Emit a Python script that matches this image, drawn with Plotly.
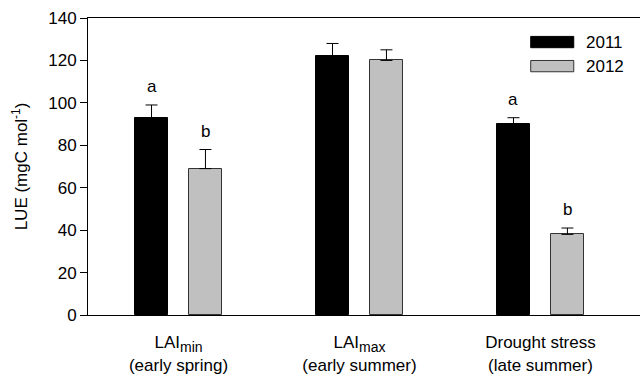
import plotly.graph_objects as go
import numpy as np

categories = ["LAI<sub><span style='font-size:14px'>min</span></sub><br>(early spring)",
              "LAI<sub><span style='font-size:14px'>max</span></sub><br>(early summer)",
              "Drought stress<br>(late summer)"]
series_names = ["2011", "2012"]
lue_2011 = [93, 122, 90]
lue_2012 = [69, 120, 38]
err_2011 = [6, 6, 3]
err_2012 = [9, 5, 3]
letters_2011 = ["a", "", "a"]
letters_2012 = ["b", "", "b"]
y_ticks = [0, 20, 40, 60, 80, 100, 120, 140]

FONT = "Liberation Sans, Arial, sans-serif"
idx = np.arange(len(categories))
off = 0.149
bw = 0.18

fig = go.Figure()
colors = ["#000000", "#C0C0C0"]
lines = ["#000000", "#333333"]
for k, (vals, errs) in enumerate([(lue_2011, err_2011), (lue_2012, err_2012)]):
    xs = idx + (-off if k == 0 else off)
    fig.add_trace(go.Bar(
        x=xs, y=vals, width=bw, name=series_names[k],
        marker=dict(color=colors[k], line=dict(color=lines[k], width=1)),
        error_y=dict(type="data", symmetric=False, array=errs, arrayminus=[0]*len(errs),
                     color="#000000", thickness=1, width=6),
        showlegend=False,
    ))

for k, (vals, errs, lets) in enumerate([(lue_2011, err_2011, letters_2011), (lue_2012, err_2012, letters_2012)]):
    for i in range(len(categories)):
        if lets[i]:
            fig.add_annotation(x=idx[i] + (-off if k == 0 else off), y=vals[i] + errs[i],
                               text=lets[i], showarrow=False, yanchor="bottom", yshift=7,
                               font=dict(size=17, color="#000000", family=FONT))

# manual legend
leg_y = [0.919, 0.838]
for k, name in enumerate(series_names):
    fig.add_shape(type="rect", xref="paper", yref="paper",
                  x0=0.802, x1=0.880, y0=leg_y[k] - 0.019, y1=leg_y[k] + 0.019,
                  fillcolor=colors[k], line=dict(color=lines[k], width=1))
    fig.add_annotation(xref="paper", yref="paper", x=0.898, y=leg_y[k], text=name,
                       showarrow=False, xanchor="left", yanchor="middle",
                       font=dict(size=17, color="#000000", family=FONT))

fig.update_layout(
    width=640, height=376,
    margin=dict(l=88, r=0, t=18, b=61),
    paper_bgcolor="white", plot_bgcolor="white",
    font=dict(family=FONT, size=17, color="#000000"),
    bargap=0,
)
fig.update_xaxes(
    range=[-0.5, 2.55], tickvals=idx, ticktext=categories,
    showline=True, linecolor="#000000", linewidth=1, mirror=True,
    ticks="", showgrid=False, zeroline=False,
    tickfont=dict(size=17, family=FONT), ticklabelstandoff=12,
)
fig.update_yaxes(
    range=[0, 140], tickvals=y_ticks,
    showline=True, linecolor="#000000", linewidth=1, mirror=False,
    ticks="outside", ticklen=7, tickcolor="#000000", tickwidth=1,
    showgrid=False, zeroline=False,
    tickfont=dict(size=17, family=FONT),
    title=dict(text="LUE (mgC mol<sup>-1</sup>)", font=dict(size=17, family=FONT), standoff=16),
)
fig.write_html("out.html")
